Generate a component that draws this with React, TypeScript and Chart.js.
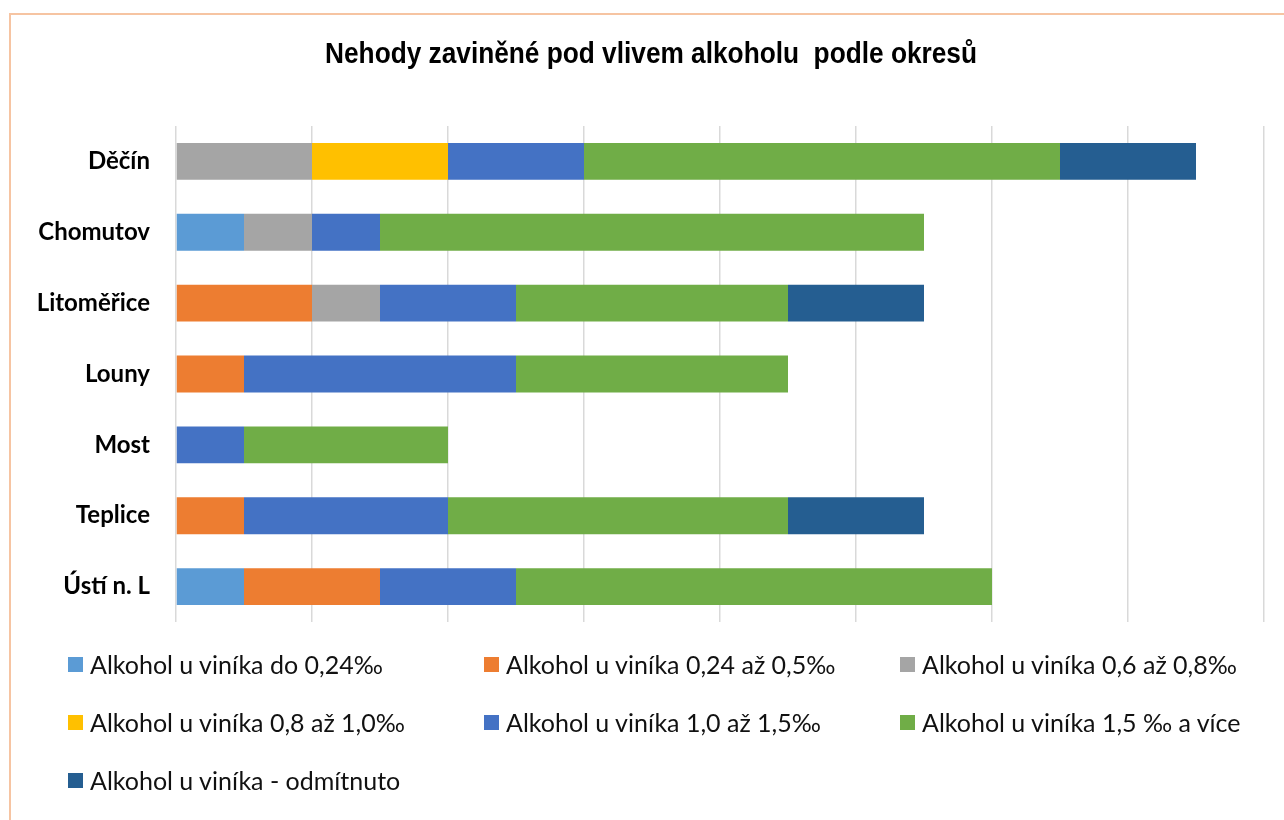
import React, { useEffect, useRef } from "react";
import { Chart, registerables } from "chart.js";

Chart.register(...registerables);

const categories = ["Děčín", "Chomutov", "Litoměřice", "Louny", "Most", "Teplice", "Ústí n. L"];

const seriesLabels = [
  "Alkohol u viníka do 0,24‰",
  "Alkohol u viníka 0,24 až 0,5‰",
  "Alkohol u viníka 0,6 až 0,8‰",
  "Alkohol u viníka 0,8 až 1,0‰",
  "Alkohol u viníka 1,0 až 1,5‰",
  "Alkohol u viníka 1,5 ‰ a více",
  "Alkohol u viníka - odmítnuto",
];

const do024 = [0, 1, 0, 0, 0, 0, 1];
const od024do05 = [0, 0, 2, 1, 0, 1, 2];
const od06do08 = [2, 1, 1, 0, 0, 0, 0];
const od08do10 = [2, 0, 0, 0, 0, 0, 0];
const od10do15 = [2, 1, 2, 4, 1, 3, 2];
const od15vice = [7, 8, 4, 4, 3, 5, 7];
const odmitnuto = [2, 0, 2, 0, 0, 2, 0];

const seriesValues = [do024, od024do05, od06do08, od08do10, od10do15, od15vice, odmitnuto];
const seriesColors = ["#5B9BD5", "#ED7D31", "#A5A5A5", "#FFC000", "#4472C4", "#70AD47", "#255E91"];

const xMax = 16;
const xStep = 2;

const TITLE = "Nehody zaviněné pod vlivem alkoholu  podle okresů";

export default function App() {
  const canvasRef = useRef<HTMLCanvasElement | null>(null);

  useEffect(() => {
    document.body.style.margin = "0";
    document.body.style.overflow = "hidden";
    const ctx = canvasRef.current;
    if (!ctx) return;
    const chart = new Chart(ctx, {
      type: "bar",
      data: {
        labels: categories,
        datasets: seriesValues.map((vals, i) => ({
          label: seriesLabels[i],
          data: vals,
          backgroundColor: seriesColors[i],
          borderWidth: 0,
          categoryPercentage: 0.52,
          barPercentage: 1,
        })),
      },
      options: {
        indexAxis: "y",
        animation: false,
        responsive: false,
        maintainAspectRatio: false,
        layout: { padding: { top: 126, right: 20, bottom: 198, left: 0 } },
        plugins: {
          legend: { display: false },
          tooltip: { enabled: false },
          title: { display: false },
        },
        scales: {
          x: {
            stacked: true,
            min: 0,
            max: xMax,
            ticks: { display: false, stepSize: xStep },
            grid: { display: true, color: "#D9D9D9", lineWidth: 1.5, drawTicks: false },
            border: { display: false },
          },
          y: {
            stacked: true,
            grid: { display: false, drawTicks: false },
            border: { display: false },
            ticks: {
              color: "#000",
              padding: 26,
              font: { family: "Lato, 'Noto Sans', sans-serif", size: 24, weight: "bold" },
            },
            afterFit: (axis: any) => {
              axis.width = 176;
            },
          },
        },
      },
    });
    return () => chart.destroy();
  }, []);

  return (
    <div style={{ position: "fixed", left: 0, top: 0, width: 1284, height: 820, overflow: "hidden", background: "#fff" }}>
      <div
        style={{
          position: "absolute",
          left: 9,
          top: 13,
          width: 1400,
          height: 1000,
          border: "2px solid #F6C4A2",
          boxSizing: "border-box",
        }}
      />
      <canvas ref={canvasRef} width={1284} height={820} style={{ position: "absolute", left: 0, top: 0 }} />
      <div
        style={{
          position: "absolute",
          left: 151,
          top: 35,
          width: 1000,
          height: 36,
          lineHeight: "36px",
          textAlign: "center",
          whiteSpace: "pre",
          fontFamily: "'Liberation Sans', Arial, sans-serif",
          fontWeight: "bold",
          fontSize: 29,
          color: "#000",
          transform: "scaleX(0.905)",
          transformOrigin: "center",
        }}
      >
        {TITLE}
      </div>
      {seriesLabels.map((lab, i) => {
        const col = i % 3;
        const row = Math.floor(i / 3);
        return (
          <div
            key={lab}
            style={{
              position: "absolute",
              left: 68 + col * 416,
              top: 664 + row * 58 - 16,
              height: 32,
              display: "flex",
              alignItems: "center",
              whiteSpace: "nowrap",
              fontFamily: "Lato, 'Noto Sans', sans-serif",
              fontSize: 25,
              color: "#111",
            }}
          >
            <span style={{ display: "inline-block", width: 15, height: 15, background: seriesColors[i], marginRight: 7 }} />
            <span>{lab}</span>
          </div>
        );
      })}
    </div>
  );
}
